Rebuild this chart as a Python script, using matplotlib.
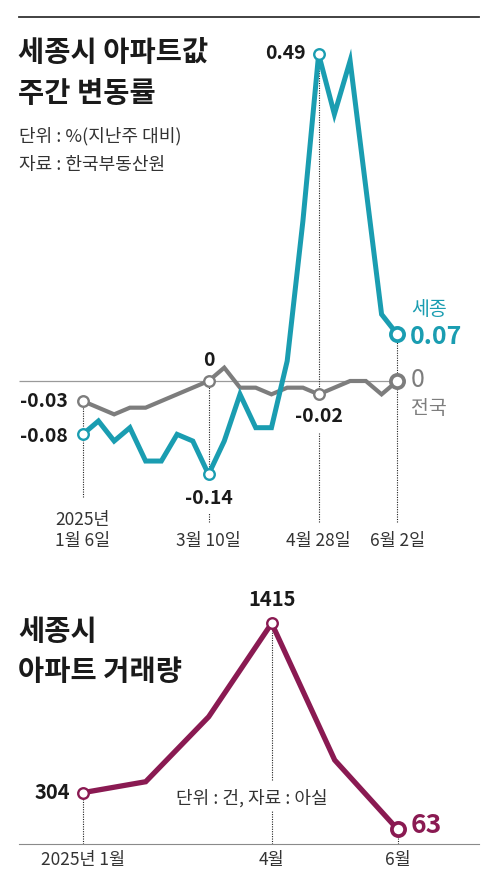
import matplotlib
matplotlib.use("Agg")
import matplotlib.pyplot as plt
from matplotlib.lines import Line2D
from matplotlib.transforms import blended_transform_factory

plt.rcParams['font.family'] = ['Noto Sans CJK KR', 'DejaVu Sans']

# ---------------- data ----------------
week_tick_idx = [0, 8, 15, 20]
week_tick_labels = ["2025년\n1월 6일", "3월 10일", "4월 28일", "6월 2일"]
sejong = [-0.08, -0.06, -0.09, -0.07, -0.12, -0.12, -0.08, -0.09, -0.14, -0.09,
          -0.02, -0.07, -0.07, 0.03, 0.24, 0.49, 0.40, 0.48, 0.29, 0.10, 0.07]
national = [-0.03, -0.04, -0.05, -0.04, -0.04, -0.03, -0.02, -0.01, 0.00, 0.02,
            -0.01, -0.01, -0.02, -0.01, -0.01, -0.02, -0.01, 0.00, 0.00, -0.02, 0.00]

months = ["2025년 1월", "2월", "3월", "4월", "5월", "6월"]
month_tick_idx = [0, 3, 5]
volume = [304, 376, 802, 1415, 518, 63]

# ---------------- style ----------------
TEAL = "#1a9db1"
GRAY = "#7d7d7d"
MAROON = "#8a1a52"
TXT = "#1a1a1a"
W, H = 500, 889

fig = plt.figure(figsize=(W / 100, H / 100), dpi=100)
fig.patch.set_facecolor("white")

def fx(px):
    return px / W

def fy(py):
    return 1 - py / H

# top rule
fig.add_artist(Line2D([fx(19), fx(479)], [fy(17), fy(17)], color="#333333", lw=1.3))

# titles
fig.text(fx(18), fy(53), "세종시 아파트값", fontsize=20.5, fontweight="bold", color=TXT, va="center", ha="left")
fig.text(fx(18), fy(94), "주간 변동률", fontsize=20.5, fontweight="bold", color=TXT, va="center", ha="left")
fig.text(fx(19), fy(136), "단위 : %(지난주 대비)", fontsize=13, color="#333333", va="center", ha="left")
fig.text(fx(19), fy(165), "자료 : 한국부동산원", fontsize=13, color="#333333", va="center", ha="left")

# ---------------- top chart ----------------
X0, DX = 82.7, 15.73      # px of index 0, px per week
Y0, SY = 381.0, 667.0     # px of value 0, px per unit
L, R, T, B = 19, 479, 20, 560
ax1 = fig.add_axes([fx(L), fy(B), (R - L) / W, (B - T) / H])
ax1.set_xlim((L - X0) / DX, (R - X0) / DX)
ax1.set_ylim((Y0 - B) / SY, (Y0 - T) / SY)
ax1.axis("off")

xs = list(range(len(sejong)))
ax1.hlines(0, (L - X0) / DX, xs[-1], color="#9a9a9a", lw=0.9, zorder=1)

# dotted guides
dot = dict(color="#222222", lw=0.8, linestyles=(0, (1, 1.2)), zorder=1.5, clip_on=False)
ax1.vlines(0, (Y0 - 497) / SY, national[0], **dot)
ax1.vlines(8, sejong[8], national[8], **dot)
ax1.vlines(8, (Y0 - 522) / SY, (Y0 - 513) / SY, **dot)
ax1.vlines(15, national[15], sejong[15], **dot)
ax1.vlines(15, (Y0 - 522) / SY, (Y0 - 433) / SY, **dot)
ax1.vlines(20, (Y0 - 522) / SY, sejong[20], **dot)

ax1.plot(xs, national, color=GRAY, lw=3.0, solid_joinstyle="miter", zorder=2)
ax1.plot(xs, sejong, color=TEAL, lw=3.6, solid_joinstyle="miter", zorder=3)

mk = dict(marker="o", mfc="white", ms=7.6, mew=1.7, ls="none", zorder=4)
for i in [0, 8, 15]:
    ax1.plot(i, sejong[i], mec=TEAL, **mk)
for i in [0, 8, 15]:
    ax1.plot(i, national[i], mec=GRAY, **mk)
mk_end = dict(marker="o", mfc="white", ms=9.5, mew=2.7, ls="none", zorder=5)
ax1.plot(xs[-1], sejong[-1], mec=TEAL, **mk_end)
ax1.plot(xs[-1], national[-1], mec=GRAY, **mk_end)

def lab(ax, txt, xy, dx, dy, ha="center", va="center", size=14, color=TXT, weight="bold"):
    ax.annotate(txt, xy=xy, xytext=(dx, dy), textcoords="offset pixels",
                ha=ha, va=va, fontsize=size, color=color, fontweight=weight,
                annotation_clip=False, zorder=6)

def fmt(v):
    return "0" if v == 0 else f"{v:.2f}"

lab(ax1, fmt(national[0]), (0, national[0]), -15, 0, ha="right")
lab(ax1, fmt(sejong[0]), (0, sejong[0]), -15, -2, ha="right")
lab(ax1, fmt(national[8]), (8, national[8]), 0, 21)
lab(ax1, fmt(sejong[8]), (8, sejong[8]), 0, -24)
lab(ax1, fmt(national[15]), (15, national[15]), 0, -22)
lab(ax1, fmt(sejong[15]), (15, sejong[15]), -13, 1, ha="right")
lab(ax1, fmt(sejong[20]), (20, sejong[20]), 13, -3, ha="left", size=18, color=TEAL)
lab(ax1, "세종", (20, sejong[20]), 14, 25, ha="left", size=14, color=TEAL, weight="medium")
lab(ax1, fmt(national[20]), (20, national[20]), 13, 1, ha="left", size=18, color=GRAY, weight="normal")
lab(ax1, "전국", (20, national[20]), 14, -28, ha="left", size=14, color=GRAY, weight="medium")

tr1 = blended_transform_factory(ax1.transData, ax1.transAxes)
for i, t in zip(week_tick_idx, week_tick_labels):
    ax1.text(i, (B - 546) / (B - T), t, transform=tr1, ha="center", va="baseline",
             fontsize=12.5, color="#333333", linespacing=1.2)

# ---------------- bottom chart ----------------
fig.text(fx(18), fy(632), "세종시", fontsize=20.5, fontweight="bold", color=TXT, va="center", ha="left")
fig.text(fx(18), fy(672), "아파트 거래량", fontsize=20.5, fontweight="bold", color=TXT, va="center", ha="left")

MX0, MDX = 82.7, 63.0
MY0, MSY = 839.06, 0.1525
L2, R2, T2, B2 = 19, 479, 580, 844
ax2 = fig.add_axes([fx(L2), fy(B2), (R2 - L2) / W, (B2 - T2) / H])
ax2.set_xlim((L2 - MX0) / MDX, (R2 - MX0) / MDX)
ax2.set_ylim((MY0 - B2) / MSY, (MY0 - T2) / MSY)
for s in ["top", "right", "left"]:
    ax2.spines[s].set_visible(False)
ax2.spines["bottom"].set_color("#8a8a8a")
ax2.spines["bottom"].set_linewidth(0.8)
ax2.set_yticks([])
ax2.set_xticks(month_tick_idx)
ax2.set_xticklabels([months[i] for i in month_tick_idx], fontsize=12.5, color="#333333")
ax2.tick_params(axis="x", length=0, pad=5)
ax2.patch.set_alpha(0)

ybot = (MY0 - B2) / MSY
ax2.vlines(0, ybot, volume[0], **dot)
ax2.vlines(3, (MY0 - 780) / MSY, volume[3], **dot)
ax2.vlines(3, ybot, (MY0 - 810) / MSY, **dot)
ax2.vlines(5, ybot, volume[5], **dot)

mx = list(range(len(volume)))
ax2.plot(mx, volume, color=MAROON, lw=3.8, solid_joinstyle="miter", zorder=3)
ax2.plot(0, volume[0], mec=MAROON, **mk)
ax2.plot(3, volume[3], mec=MAROON, **mk)
ax2.plot(5, volume[5], mec=MAROON, **mk_end)

lab(ax2, str(volume[3]), (3, volume[3]), 0, 24, size=14.5)
lab(ax2, str(volume[0]), (0, volume[0]), -13, 0, ha="right", size=14.5)
lab(ax2, str(volume[5]), (5, volume[5]), 13, 4, ha="left", size=19, color=MAROON)

fig.text(fx(252), fy(798), "단위 : 건, 자료 : 아실", fontsize=13, color="#333333", ha="center", va="center")

fig.savefig("out.png", dpi=100, facecolor="white")
